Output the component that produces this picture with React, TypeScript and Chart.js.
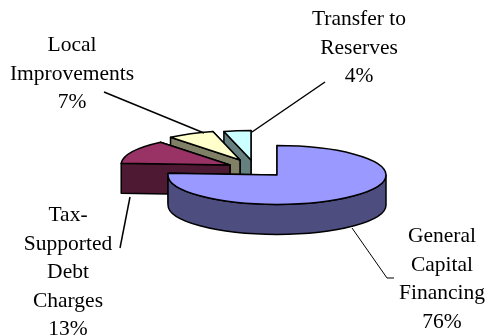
import React, { useEffect, useRef } from "react";
import { Chart, registerables } from "chart.js";

Chart.register(...registerables);

const categories = ["General Capital Financing", "Tax-Supported Debt Charges", "Local Improvements", "Transfer to Reserves"];
const shares = [76, 13, 7, 4];
const labelLines = [
  ["General", "Capital", "Financing", "76%"],
  ["Tax-", "Supported", "Debt", "Charges", "13%"],
  ["Local", "Improvements", "7%"],
  ["Transfer to", "Reserves", "4%"],
];
const topColors = ["#9999FF", "#993366", "#FFFFCC", "#CCFFFF"];
const wallColors = ["#4D4D80", "#4D1933", "#808066", "#668080"];

const SQUASH = 0.27;
const DEPTH = 30;
const sliceShift = [[0, 0], [-47, -10], [-37, -15], [-26, -15]];
const labelAnchors = [[442, 242], [68, 221], [72, 51], [359, 25]];
const labelStep = 28.6;
const leaders = [
  [[352, 228], [387, 278], [394, 278]],
  [[130, 197], [120, 248]],
  [[104, 92], [204, 133]],
  [[325, 82], [252, 132]],
];
const leaderWidth = [1, 1.5, 1.5, 1.5];

const piePlugin = {
  id: "pie3d",
  beforeDatasetDraw(chart: any) {
    const ctx = chart.ctx;
    const arcs = chart.getDatasetMeta(0).data;
    ctx.save();
    ctx.lineJoin = "round";
    ctx.lineWidth = 1.5;
    ctx.strokeStyle = "#000";
    for (let i = arcs.length - 1; i >= 0; i--) {
      const a = arcs[i];
      const cx = a.x + sliceShift[i][0];
      const cy = a.y + sliceShift[i][1];
      const rx = a.outerRadius;
      const ry = rx * SQUASH;
      const start = a.startAngle;
      const end = a.endAngle;
      const px = (t: number) => cx + rx * Math.cos(t);
      const py = (t: number) => cy + ry * Math.sin(t);

      ctx.fillStyle = wallColors[i];
      for (const t of [end, start]) {
        ctx.beginPath();
        ctx.moveTo(cx, cy);
        ctx.lineTo(px(t), py(t));
        ctx.lineTo(px(t), py(t) + DEPTH);
        ctx.lineTo(cx, cy + DEPTH);
        ctx.closePath();
        ctx.fill();
        ctx.stroke();
      }

      for (const k of [0, 2]) {
        const from = Math.max(start, k * Math.PI);
        const to = Math.min(end, (k + 1) * Math.PI);
        if (to <= from) continue;
        ctx.beginPath();
        ctx.ellipse(cx, cy, rx, ry, 0, from, to);
        ctx.lineTo(px(to), py(to) + DEPTH);
        ctx.ellipse(cx, cy + DEPTH, rx, ry, 0, to, from, true);
        ctx.closePath();
        ctx.fill();
        ctx.stroke();
      }

      ctx.fillStyle = topColors[i];
      ctx.beginPath();
      ctx.moveTo(cx, cy);
      ctx.ellipse(cx, cy, rx, ry, 0, start, end);
      ctx.closePath();
      ctx.fill();
      ctx.stroke();
    }
    ctx.restore();
    return false;
  },
  afterDraw(chart: any) {
    const ctx = chart.ctx;
    ctx.save();
    ctx.strokeStyle = "#000";
    leaders.forEach((pts, i) => {
      ctx.lineWidth = leaderWidth[i];
      ctx.beginPath();
      pts.forEach((p, j) => (j ? ctx.lineTo(p[0], p[1]) : ctx.moveTo(p[0], p[1])));
      ctx.stroke();
    });
    ctx.fillStyle = "#000";
    ctx.font = '21.5px "Liberation Serif"';
    ctx.textAlign = "center";
    ctx.textBaseline = "alphabetic";
    labelLines.forEach((lines, i) => {
      lines.forEach((line, j) => {
        ctx.fillText(line, labelAnchors[i][0], labelAnchors[i][1] + j * labelStep);
      });
    });
    ctx.restore();
  },
};

export default function App() {
  const ref = useRef<HTMLCanvasElement>(null);
  useEffect(() => {
    const chart = new Chart(ref.current as HTMLCanvasElement, {
      type: "pie",
      data: {
        labels: categories,
        datasets: [{ data: shares, backgroundColor: topColors, borderWidth: 0 }],
      },
      options: {
        animation: false,
        responsive: false,
        layout: { padding: { left: 168, right: 101, top: 66, bottom: 52 } },
        plugins: { legend: { display: false }, tooltip: { enabled: false } },
      },
      plugins: [piePlugin],
    } as any);
    return () => chart.destroy();
  }, []);
  return (
    <div style={{ position: "fixed", left: 0, top: 0, width: 487, height: 336, background: "#fff" }}>
      <canvas ref={ref} width={487} height={336} style={{ display: "block" }} />
    </div>
  );
}
